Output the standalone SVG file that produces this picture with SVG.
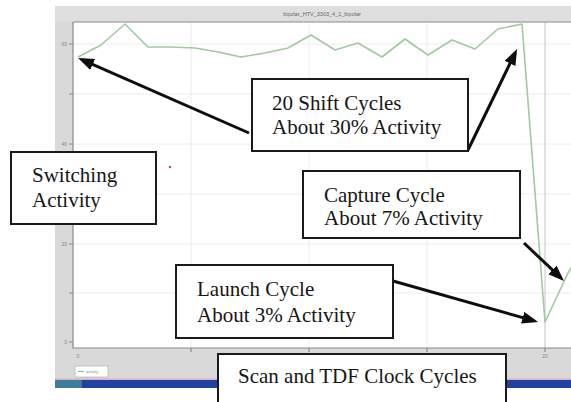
<svg xmlns="http://www.w3.org/2000/svg" width="571" height="402" viewBox="0 0 571 402">
  <defs>
    <style>
      .box { fill: #ffffff; stroke: #1a1a1a; stroke-width: 2; }
      .lbl { font-family: "Liberation Serif", "Times New Roman", serif; font-size: 21px; fill: #161616; }
      .grid { stroke: #ececec; stroke-width: 1; fill: none; }
      .axis { stroke: #8a8a8a; stroke-width: 1.2; fill: none; }
      .tick { font-family: "Liberation Sans", Arial, sans-serif; font-size: 5px; fill: #8a8a8a; }
      .arrow { stroke: #0d0d0d; stroke-width: 3; fill: none; marker-end: url(#head); }
    </style>
    <marker id="head" markerUnits="userSpaceOnUse" markerWidth="16" markerHeight="12" refX="12" refY="6" orient="auto">
      <path d="M0,0 L16,6 L0,12 z" fill="#0d0d0d"/>
    </marker>
  </defs>

  <rect width="571" height="402" fill="#ffffff"/>

  <!-- plot window -->
  <g id="chart">
    <rect x="55" y="6" width="516" height="374" fill="#d9d9d9"/>
    <rect x="55" y="6" width="516" height="16" fill="#dedede"/>
    <text x="322" y="15.5" text-anchor="middle" font-family="Liberation Sans, Arial, sans-serif" font-size="5.5" fill="#6a6a6a">bipolar_HTV_3303_4_1_bipolar</text>
    <rect x="73" y="22" width="498" height="326" fill="#ffffff"/>
    <!-- grid -->
    <path class="grid" d="M191,22V348 M309,22V348 M427,22V348 M73,44H571 M73,94H571 M73,144H571 M73,194H571 M73,244H571 M73,293H571"/>
    <path d="M545,22V348" stroke="#c4c4c4" stroke-width="1" fill="none"/>
    <!-- axes -->
    <path class="axis" d="M73,22H571"/>
    <path class="axis" d="M73,22V348H571"/>
    <path class="axis" d="M69,44H73 M69,94H73 M69,144H73 M69,194H73 M69,244H73 M69,293H73 M69,342H73 M191,348V352 M309,348V352 M427,348V352 M545,348V352"/>
    <text class="tick" x="67" y="46" text-anchor="end">60</text>
    <text class="tick" x="67" y="146" text-anchor="end">40</text>
    <text class="tick" x="67" y="246" text-anchor="end">20</text>
    <text class="tick" x="67" y="344" text-anchor="end">0</text>
    <text class="tick" x="78" y="358" text-anchor="middle">0</text>
    <text class="tick" x="545" y="358" text-anchor="middle">20</text>
    <!-- activity trace -->
    <polyline fill="none" stroke="#9fcb9f" stroke-width="1.6" stroke-linejoin="round"
      points="78,57 101,45 125,24 148,47 171,47 195,48 218,52 241,57 265,53 288,48 311,35 335,50 358,43 382,57 405,39 428,55 452,40 475,49 498,29 522,24 545,322 568,273 571,268"/>
    <!-- marker dot -->
    <circle cx="170" cy="167" r="1.3" fill="#c0506a"/>
    <!-- legend -->
    <rect x="75" y="366" width="33" height="11" fill="#ffffff" stroke="#b8b8b8" stroke-width="0.8"/>
    <path d="M78,371.5H84" stroke="#8fbf8f" stroke-width="1"/>
    <text x="86" y="373" font-family="Liberation Sans, Arial, sans-serif" font-size="4" fill="#888">activity</text>
    <!-- status bar -->
    <rect x="55" y="378.5" width="516" height="1.5" fill="#e0b0c0"/>
    <rect x="55" y="380" width="516" height="8" fill="#2340a3"/>
    <rect x="55" y="380" width="27" height="8" fill="#3c7c9c"/>
  </g>

  <!-- connectors -->
  <g id="connectors">
    <line class="arrow" x1="249" y1="133" x2="81.7" y2="59.6"/>
    <line class="arrow" x1="468" y1="150" x2="515.3" y2="52.6"/>
    <line class="arrow" x1="524" y1="243" x2="561.1" y2="278.2"/>
    <line class="arrow" x1="393" y1="281" x2="534.2" y2="320.9"/>
  </g>

  <g id="shift">
    <rect class="box" x="252" y="79" width="216" height="72"/>
    <text class="lbl" x="272" y="110">20 Shift Cycles</text>
    <text class="lbl" x="272" y="134">About 30% Activity</text>
  </g>

  <g id="switching">
    <rect class="box" x="11" y="152" width="145" height="72"/>
    <text class="lbl" x="32" y="182">Switching</text>
    <text class="lbl" x="32" y="207">Activity</text>
  </g>

  <g id="capture">
    <rect class="box" x="303" y="171" width="217" height="67"/>
    <text class="lbl" x="324" y="202">Capture Cycle</text>
    <text class="lbl" x="324" y="225">About 7% Activity</text>
  </g>

  <g id="launch">
    <rect class="box" x="176" y="265" width="217" height="73"/>
    <text class="lbl" x="197" y="296">Launch Cycle</text>
    <text class="lbl" x="197" y="322">About 3% Activity</text>
  </g>

  <g id="clock">
    <rect class="box" x="218" y="354" width="288" height="50"/>
    <text class="lbl" x="238" y="383">Scan and TDF Clock Cycles</text>
  </g>
</svg>
